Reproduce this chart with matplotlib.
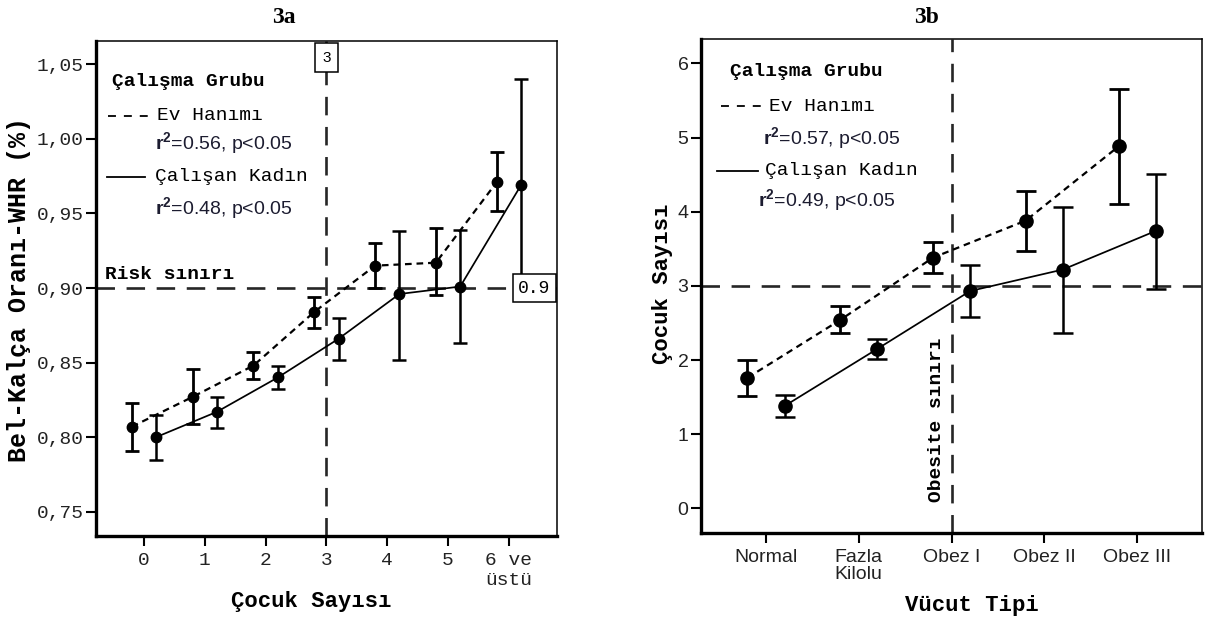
import numpy as np
import matplotlib
matplotlib.use("Agg")
import matplotlib.pyplot as plt

plt.rcParams['mathtext.fontset'] = 'custom'
plt.rcParams['mathtext.rm'] = 'Liberation Sans'
plt.rcParams['mathtext.bf'] = 'Liberation Sans:bold'

MONO = 'Liberation Mono'
SANS = 'Liberation Sans'

# 3a: bel-kalca orani by number of children
cocuk_labels = ['0', '1', '2', '3', '4', '5', '6 ve\nüstü']
whr_yticks = [0.75, 0.80, 0.85, 0.90, 0.95, 1.00, 1.05]
whr_ytick_labels = ['0,75', '0,80', '0,85', '0,90', '0,95', '1,00', '1,05']

ev_whr = [0.807, 0.827, 0.848, 0.884, 0.915, 0.917, 0.971]
ev_whr_low = [0.791, 0.809, 0.839, 0.873, 0.900, 0.895, 0.952]
ev_whr_high = [0.823, 0.846, 0.857, 0.894, 0.930, 0.940, 0.991]

kad_whr = [0.800, 0.817, 0.840, 0.866, 0.896, 0.901, 0.969]
kad_whr_low = [0.785, 0.806, 0.832, 0.852, 0.852, 0.863, 0.897]
kad_whr_high = [0.815, 0.827, 0.848, 0.880, 0.938, 0.939, 1.040]

risk_siniri = 0.9
cocuk_esik = 3

# 3b: number of children by body type
vucut_labels = ['Normal', 'Fazla\nKilolu', 'Obez I', 'Obez II', 'Obez III']
cocuk_yticks = [0, 1, 2, 3, 4, 5, 6]

ev_cocuk = [1.76, 2.54, 3.38, 3.88, 4.88]
ev_cocuk_low = [1.52, 2.36, 3.17, 3.47, 4.11]
ev_cocuk_high = [2.00, 2.73, 3.585, 4.28, 5.66]

kad_cocuk = [1.38, 2.15, 2.93, 3.22, 3.74]
kad_cocuk_low = [1.23, 2.01, 2.58, 2.37, 2.96]
kad_cocuk_high = [1.53, 2.29, 3.28, 4.06, 4.51]

cocuk_siniri = 3
obesite_index = 2

r2_a = ['$\\mathbf{r}^{\\mathbf{2}}$=0.56, p<0.05', '$\\mathbf{r}^{\\mathbf{2}}$=0.48, p<0.05']
r2_b = ['$\\mathbf{r}^{\\mathbf{2}}$=0.57, p<0.05', '$\\mathbf{r}^{\\mathbf{2}}$=0.49, p<0.05']

OFFSET = 0.2
REF_DASH = (7.0, 4.4)
DATA_DASH = (3.0, 2.2)


def yerr(mean, low, high):
    mean = np.asarray(mean)
    return [mean - np.asarray(low), np.asarray(high) - mean]


def style_axes(ax):
    for side in ['left', 'bottom']:
        ax.spines[side].set_linewidth(2.4)
    for side in ['top', 'right']:
        ax.spines[side].set_linewidth(1.1)
    ax.tick_params(axis='both', direction='out', length=7.5, width=1.5,
                   top=False, right=False)


def draw_series(ax, x, mean, low, high, dashed, ms, cap, elw):
    ls = '--' if dashed else '-'
    line, = ax.plot(x, mean, ls, color='black', lw=1.6 if dashed else 1.25, zorder=3)
    if dashed:
        line.set_dashes(DATA_DASH)
    ax.errorbar(x, mean, yerr=yerr(mean, low, high), fmt='o', color='black',
                ms=ms, capsize=cap, elinewidth=elw, capthick=elw, zorder=4)


def legend_block(ax, x_title, y_title, rows, r2_texts):
    ax.text(x_title, y_title, 'Çalışma Grubu', transform=ax.transAxes,
            family=MONO, weight='bold', fontsize=14, va='center', ha='left')
    for (x0, x1, xt, y, label, dashed, xr, yr), r2 in zip(rows, r2_texts):
        ln, = ax.plot([x0, x1], [y, y], transform=ax.transAxes, color='black',
                      lw=1.3, clip_on=False)
        if dashed:
            ln.set_dashes((4.4, 4.4))
        ax.text(xt, y, label, transform=ax.transAxes, family=MONO, fontsize=14,
                va='center', ha='left')
        ax.text(xr, yr, r2, transform=ax.transAxes, family=SANS, fontsize=14,
                va='center', ha='left', color='#1c1c30')


fig = plt.figure(figsize=(12.07, 6.19), dpi=100)

# ---------- 3a ----------
ax1 = fig.add_axes([0.0795, 0.1341, 0.3819, 0.7997])
x = np.arange(len(cocuk_labels))
ax1.axhline(risk_siniri, color='#262626', lw=1.9, dashes=REF_DASH, zorder=2)
ax1.axvline(cocuk_esik, color='#262626', lw=1.9, dashes=REF_DASH, zorder=2)
draw_series(ax1, x - OFFSET, ev_whr, ev_whr_low, ev_whr_high, True, 7.5, 5, 2.0)
draw_series(ax1, x + OFFSET, kad_whr, kad_whr_low, kad_whr_high, False, 7.5, 5, 1.8)

ax1.set_xlim(-0.79, 6.79)
ax1.set_ylim(0.7337, 1.0657)
ax1.set_xticks(x)
ax1.set_xticklabels(cocuk_labels, family=MONO, fontsize=14, color='#222222')
ax1.set_yticks(whr_yticks)
ax1.set_yticklabels(whr_ytick_labels, family=MONO, fontsize=14, color='#222222')
style_axes(ax1)
ax1.tick_params(axis='y', pad=1.5)
ax1.tick_params(axis='x', pad=4)

ax1.text(0.0195, 0.529, 'Risk sınırı', transform=ax1.transAxes, family=MONO,
         weight='bold', fontsize=14, va='center', ha='left')
ax1.text(0.951, risk_siniri, '0.9', transform=ax1.get_yaxis_transform(),
         family=MONO, fontsize=13, ha='center', va='center', zorder=6,
         bbox=dict(boxstyle='square,pad=0.3', fc='white', ec='black', lw=1.1))
ax1.text(cocuk_esik, 0.966, '3', transform=ax1.get_xaxis_transform(),
         family=SANS, fontsize=11, ha='center', va='center', zorder=6,
         bbox=dict(boxstyle='square,pad=0.5', fc='white', ec='black', lw=1.1))

legend_block(ax1, 0.034, 0.918,
             [(0.026, 0.121, 0.133, 0.8485, 'Ev Hanımı', True, 0.128, 0.7933),
              (0.023, 0.106, 0.128, 0.7259, 'Çalışan Kadın', False, 0.128, 0.662)],
             r2_a)

fig.text(0.2577, 0.0275, 'Çocuk Sayısı', family=MONO, weight='bold', fontsize=16,
         ha='center', va='center')
fig.text(0.0157, 0.533, 'Bel-Kalça Oranı-WHR (%)', family=MONO, weight='bold',
         fontsize=18, ha='center', va='center', rotation=90)
fig.text(0.235, 0.9725, '3a', family='Liberation Serif', weight='bold',
         fontsize=17, ha='center', va='center')

# ---------- 3b ----------
ax2 = fig.add_axes([0.5808, 0.1384, 0.4151, 0.799])
x2 = np.arange(len(vucut_labels))
ax2.axhline(cocuk_siniri, color='#262626', lw=1.9, dashes=REF_DASH, zorder=2)
ax2.axvline(x2[obesite_index], color='#262626', lw=1.9, dashes=REF_DASH, zorder=2)
draw_series(ax2, x2 - OFFSET, ev_cocuk, ev_cocuk_low, ev_cocuk_high, True, 9.5, 7, 2.0)
draw_series(ax2, x2 + OFFSET, kad_cocuk, kad_cocuk_low, kad_cocuk_high, False, 9.5, 7, 1.8)

ax2.set_xlim(-0.7, 4.7)
ax2.set_ylim(-0.337, 6.332)
ax2.set_xticks(x2)
ax2.set_xticklabels(vucut_labels, family=SANS, fontsize=14, color='#222222',
                    linespacing=1.0)
ax2.set_yticks(cocuk_yticks)
ax2.set_yticklabels([str(v) for v in cocuk_yticks], family=SANS, fontsize=14,
                    color='#222222')
style_axes(ax2)
ax2.tick_params(axis='y', pad=1.5)
ax2.tick_params(axis='x', pad=4)

ax2.text(0.470, 0.230, 'Obesite sınırı', transform=ax2.transAxes, family=MONO,
         weight='bold', fontsize=14, rotation=90, ha='center', va='center')

legend_block(ax2, 0.0585, 0.933,
             [(0.039, 0.132, 0.136, 0.864, 'Ev Hanımı', True, 0.1245, 0.797),
              (0.031, 0.113, 0.128, 0.733, 'Çalışan Kadın', False, 0.1146, 0.672)],
             r2_b)

fig.text(0.805, 0.0226, 'Vücut Tipi', family=MONO, weight='bold', fontsize=16,
         ha='center', va='center')
fig.text(0.5485, 0.541, 'Çocuk Sayısı', family=MONO, weight='bold', fontsize=16,
         ha='center', va='center', rotation=90)
fig.text(0.768, 0.9725, '3b', family='Liberation Serif', weight='bold',
         fontsize=17, ha='center', va='center')

fig.savefig('out.png', dpi=100)
